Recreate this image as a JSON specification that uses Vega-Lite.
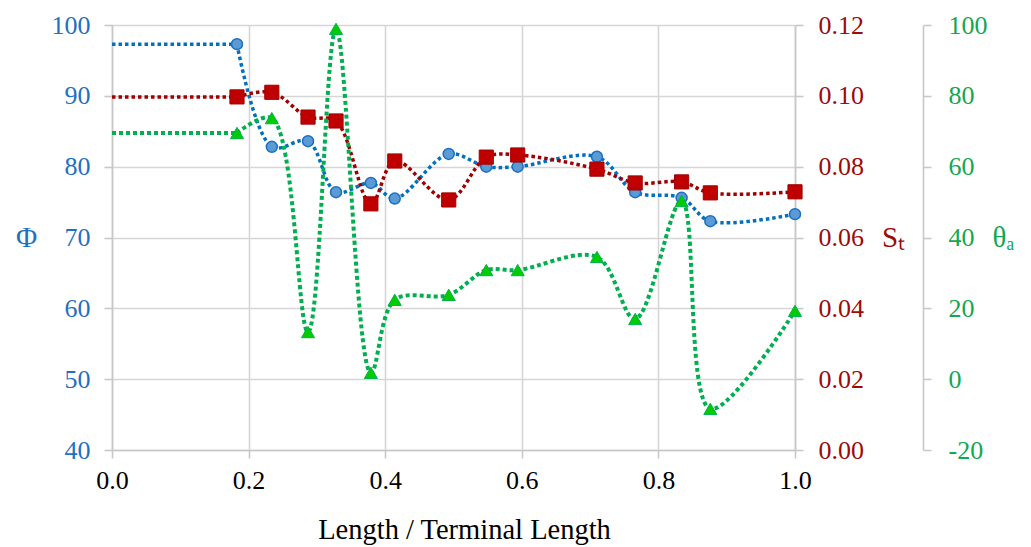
{
  "$schema": "https://vega.github.io/schema/vega-lite/v6.json",
  "width": 683,
  "height": 425,
  "autosize": {"type": "none"},
  "padding": {"left": 112, "top": 25, "right": 236, "bottom": 97},
  "background": "white",
  "config": {
    "view": {"stroke": null},
    "font": "'Liberation Serif', 'Times New Roman', serif",
    "axis": {
      "labelFont": "'Liberation Serif', 'Times New Roman', serif",
      "titleFont": "'Liberation Serif', 'Times New Roman', serif",
      "labelFontSize": 26,
      "titleFontSize": 28,
      "titleFontWeight": "normal",
      "gridColor": "#d6d6d6",
      "gridWidth": 1.6,
      "tickColor": "#c8c8c8",
      "tickWidth": 1.6,
      "tickSize": 8,
      "domainColor": "#c8c8c8",
      "domainWidth": 1.6,
      "labelFlush": false
    }
  },
  "data": {
    "values": [
      {"length_ratio": 0.0, "phi": 97.3, "st": 0.0997, "theta_a": 69.5},
      {"length_ratio": 0.183, "phi": 97.3, "st": 0.0997, "theta_a": 69.5},
      {"length_ratio": 0.234, "phi": 82.8, "st": 0.101, "theta_a": 73.7},
      {"length_ratio": 0.287, "phi": 83.6, "st": 0.094, "theta_a": 13.3},
      {"length_ratio": 0.328, "phi": 76.4, "st": 0.0929, "theta_a": 98.9},
      {"length_ratio": 0.379, "phi": 77.7, "st": 0.0695, "theta_a": 1.8},
      {"length_ratio": 0.414, "phi": 75.5, "st": 0.0816, "theta_a": 22.4},
      {"length_ratio": 0.493, "phi": 81.8, "st": 0.0706, "theta_a": 23.8},
      {"length_ratio": 0.548, "phi": 80.0, "st": 0.0827, "theta_a": 30.8},
      {"length_ratio": 0.594, "phi": 80.0, "st": 0.0833, "theta_a": 30.8},
      {"length_ratio": 0.71, "phi": 81.4, "st": 0.0793, "theta_a": 34.5},
      {"length_ratio": 0.766, "phi": 76.4, "st": 0.0754, "theta_a": 17.0},
      {"length_ratio": 0.834, "phi": 75.6, "st": 0.0757, "theta_a": 50.3},
      {"length_ratio": 0.876, "phi": 72.3, "st": 0.0726, "theta_a": -8.4},
      {"length_ratio": 1.0, "phi": 73.3, "st": 0.0729, "theta_a": 19.3}
    ]
  },
  "encoding": {
    "x": {
      "field": "length_ratio",
      "type": "quantitative",
      "scale": {"domain": [0, 1], "nice": false},
      "axis": {
        "title": "Length / Terminal Length",
        "values": [0, 0.2, 0.4, 0.6, 0.8, 1.0],
        "format": ".1f",
        "grid": true,
        "labelColor": "black",
        "labelPadding": 9,
        "titlePadding": 22,
        "titleColor": "black",
        "titleFontSize": 28.5,
        "titleX": 352,
        "titleAlign": "center"
      }
    }
  },
  "layer": [
    {
      "encoding": {
        "y": {
          "field": "phi",
          "type": "quantitative",
          "scale": {"domain": [40, 100], "nice": false, "zero": false},
          "axis": {
            "orient": "left",
            "title": "Φ",
            "values": [40, 50, 60, 70, 80, 90, 100],
            "grid": true,
            "labelColor": "#1f70c1",
            "labelPadding": 14,
            "titleColor": "#1f70c1",
            "titleAngle": 0,
            "titleAlign": "center",
            "titleBaseline": "middle",
            "titleX": -86,
            "titleY": 212,
            "titleFontSize": 29
          }
        }
      },
      "layer": [
        {
          "transform": [{"filter": "datum.length_ratio <= 0.183"}],
          "mark": {"type": "line", "color": "#0070c0", "strokeWidth": 3.5, "strokeDash": [3.5, 3], "strokeCap": "butt"}
        },
        {
          "transform": [{"filter": "datum.length_ratio > 0"}],
          "mark": {"type": "line", "interpolate": "catmull-rom", "color": "#0070c0", "strokeWidth": 3.5, "strokeDash": [3.5, 3], "strokeCap": "butt"}
        },
        {
          "transform": [{"filter": "datum.length_ratio > 0"}],
          "mark": {"type": "point", "shape": "circle", "filled": true, "size": 120, "fill": "#5b9bd5", "stroke": "#1f6fc0", "strokeWidth": 1.5, "opacity": 1}
        }
      ]
    },
    {
      "encoding": {
        "y": {
          "field": "st",
          "type": "quantitative",
          "scale": {"domain": [0, 0.12], "nice": false},
          "axis": {
            "orient": "right",
            "title": "Sₜ",
            "values": [0, 0.02, 0.04, 0.06, 0.08, 0.1, 0.12],
            "format": ".2f",
            "grid": false,
            "labelColor": "#9c0a0a",
            "labelPadding": 15,
            "titleColor": "#9c0a0a",
            "titleAngle": 0,
            "titleAlign": "center",
            "titleBaseline": "middle",
            "titleX": 98,
            "titleY": 212,
            "titleFontSize": 29
          }
        }
      },
      "layer": [
        {
          "transform": [{"filter": "datum.length_ratio <= 0.183"}],
          "mark": {"type": "line", "color": "#a00000", "strokeWidth": 3.5, "strokeDash": [3.5, 3], "strokeCap": "butt"}
        },
        {
          "transform": [{"filter": "datum.length_ratio > 0"}],
          "mark": {"type": "line", "interpolate": "catmull-rom", "color": "#a00000", "strokeWidth": 3.5, "strokeDash": [3.5, 3], "strokeCap": "butt"}
        },
        {
          "transform": [{"filter": "datum.length_ratio > 0"}],
          "mark": {"type": "point", "shape": "square", "filled": true, "size": 200, "fill": "#c00000", "stroke": "#a00000", "strokeWidth": 1, "opacity": 1}
        }
      ]
    },
    {
      "encoding": {
        "y": {
          "field": "theta_a",
          "type": "quantitative",
          "scale": {"domain": [-20, 100], "nice": false, "zero": false},
          "axis": {
            "orient": "right",
            "offset": 128,
            "title": "θₐ",
            "values": [-20, 0, 20, 40, 60, 80, 100],
            "labelExpr": "replace(datum.label, '\u2212', '-')",
            "grid": false,
            "labelColor": "#13a84f",
            "labelPadding": 17,
            "titleColor": "#13a84f",
            "titleAngle": 0,
            "titleAlign": "center",
            "titleBaseline": "middle",
            "titleX": 80,
            "titleY": 212,
            "titleFontSize": 29
          }
        }
      },
      "layer": [
        {
          "transform": [{"filter": "datum.length_ratio <= 0.183"}],
          "mark": {"type": "line", "color": "#00b050", "strokeWidth": 4, "strokeDash": [4, 3], "strokeCap": "butt"}
        },
        {
          "transform": [{"filter": "datum.length_ratio > 0"}],
          "mark": {"type": "line", "interpolate": "catmull-rom", "color": "#00b050", "strokeWidth": 4, "strokeDash": [4, 3], "strokeCap": "butt"}
        },
        {
          "transform": [{"filter": "datum.length_ratio > 0"}],
          "mark": {"type": "point", "shape": "triangle-up", "filled": true, "size": 170, "fill": "#00cc00", "stroke": "#00b050", "strokeWidth": 1, "opacity": 1}
        }
      ]
    }
  ],
  "resolve": {"scale": {"y": "independent"}}
}
